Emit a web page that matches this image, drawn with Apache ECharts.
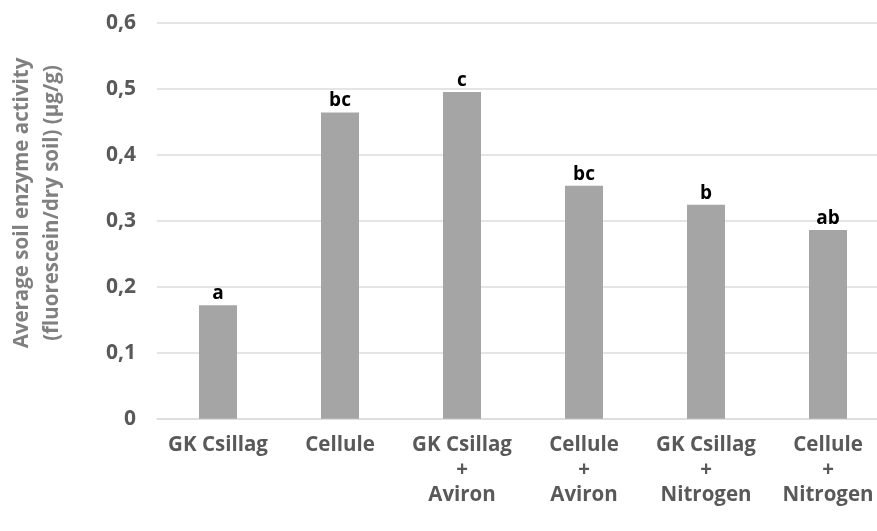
<!DOCTYPE html>
<html>
<head>
<meta charset="utf-8">
<style>html,body{margin:0;padding:0;background:#fff}#c{width:877px;height:531px}</style>
<script src="https://cdn.jsdelivr.net/npm/echarts@6/dist/echarts.min.js"></script>
</head>
<body>
<div id="c"></div>
<script>
const categories = ['GK Csillag', 'Cellule', 'GK Csillag\n+\nAviron', 'Cellule\n+\nAviron', 'GK Csillag\n+\nNitrogen', 'Cellule\n+\nNitrogen'];
const values = [0.172, 0.464, 0.495, 0.353, 0.324, 0.286];
const letters = ['a', 'bc', 'c', 'bc', 'b', 'ab'];
const yTitle = 'Average soil enzyme activity\n(fluorescein/dry soil) (µg/g)';

const chart = echarts.init(document.getElementById('c'));
const FONT = '"Open Sans", "DejaVu Sans", sans-serif';
chart.setOption({
  animation: false,
  grid: { left: 157, top: 22.7, width: 732, bottom: 112.3, containLabel: false, outerBoundsMode: 'none' },
  xAxis: {
    type: 'category',
    data: categories,
    axisLine: { show: true, lineStyle: { color: '#dcdcdc', width: 1.5 } },
    axisTick: { show: false },
    axisLabel: {
      interval: 0, margin: 14, color: '#595959', fontFamily: FONT,
      fontWeight: 'bold', fontSize: 20.5, lineHeight: 25
    }
  },
  yAxis: {
    type: 'value', min: 0, max: 0.6, interval: 0.1,
    axisLine: { show: false }, axisTick: { show: false },
    splitLine: { lineStyle: { color: '#dcdcdc', width: 1.5 } },
    axisLabel: {
      margin: 21, color: '#595959', fontFamily: FONT, fontWeight: 'bold', fontSize: 21,
      formatter: v => v === 0 ? '0' : v.toFixed(1).replace('.', ',')
    }
  },
  series: [{
    type: 'bar',
    data: values,
    barWidth: 38,
    itemStyle: { color: '#a5a5a5' },
    label: {
      show: true, position: 'top', distance: 2,
      formatter: p => letters[p.dataIndex],
      color: '#000', fontFamily: FONT, fontWeight: 'bold', fontSize: 19
    }
  }],
  graphic: [{
    type: 'text',
    x: 37, y: 203,
    rotation: Math.PI / 2,
    style: {
      text: yTitle, textAlign: 'center', textVerticalAlign: 'middle',
      fill: '#808080', font: 'bold 20.5px ' + FONT, lineHeight: 30
    }
  }]
});
</script>
</body>
</html>
